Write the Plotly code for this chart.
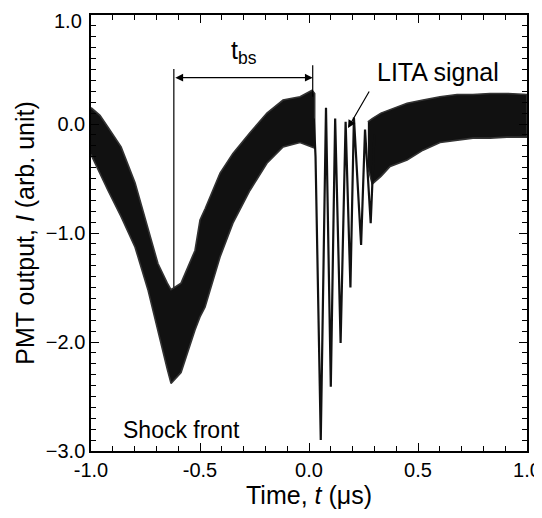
import plotly.graph_objects as go

# ---- data ----
# noisy band before the LITA burst (shock-front dip)
band1_t = [-1.0, -0.959, -0.922, -0.862, -0.798, -0.739, -0.693, -0.650, -0.633, -0.587, -0.523, -0.500,
           -0.477, -0.408, -0.349, -0.271, -0.193, -0.119, -0.041, 0.014, 0.026]
band1_upper = [0.15, 0.08, -0.03, -0.21, -0.54, -0.97, -1.28, -1.46, -1.52, -1.46, -1.16, -0.88,
               -0.78, -0.45, -0.27, -0.08, 0.10, 0.22, 0.25, 0.31, 0.28]
band1_lower = [-0.28, -0.45, -0.61, -0.85, -1.13, -1.52, -1.89, -2.25, -2.38, -2.28, -1.89, -1.77,
               -1.68, -1.22, -0.91, -0.61, -0.36, -0.21, -0.17, -0.21, -0.22]

# LITA oscillation
lita_t = [0.022, 0.030, 0.054, 0.078, 0.100, 0.120, 0.145, 0.168, 0.190, 0.206, 0.239, 0.257, 0.283, 0.300]
lita_v = [0.05, -0.30, -2.90, 0.15, -2.41, 0.05, -2.01, 0.02, -1.50, 0.06, -1.11, -0.05, -0.91, -0.10]

# noisy band after the LITA burst
band2_t = [0.270, 0.290, 0.330, 0.372, 0.450, 0.523, 0.601, 0.679, 0.752, 0.830, 0.908, 1.0]
band2_upper = [0.02, 0.05, 0.10, 0.13, 0.19, 0.22, 0.25, 0.27, 0.27, 0.28, 0.28, 0.27]
band2_lower = [-0.40, -0.55, -0.48, -0.39, -0.33, -0.24, -0.17, -0.15, -0.13, -0.13, -0.12, -0.12]

x_tick_vals = [-1.0, -0.5, 0.0, 0.5, 1.0]
x_tick_text = ["-1.0", "-0.5", "0.0", "0.5", "1.0"]
y_tick_vals = [1.0, 0.0, -1.0, -2.0, -3.0]
y_tick_text = ["1.0", "0.0", "\u22121.0", "\u22122.0", "\u22123.0"]

FONT = "Liberation Sans, Arial, Helvetica, sans-serif"
X_RANGE = [-1, 1]
Y_RANGE = [-3, 1]

fig = go.Figure()

def band(t, up, lo):
    xs = list(t) + list(reversed(t))
    ys = list(up) + list(reversed(lo))
    return go.Scatter(x=xs, y=ys, mode="lines", fill="toself", fillcolor="#111111",
                      line=dict(color="#333333", width=1.6), hoverinfo="skip", showlegend=False)

fig.add_trace(band(band1_t, band1_upper, band1_lower))
fig.add_trace(band(band2_t, band2_upper, band2_lower))
fig.add_trace(go.Scatter(x=lita_t, y=lita_v, mode="lines",
                         line=dict(color="#111111", width=2.2), showlegend=False))
# invisible trace that binds the mirrored (top / right) tick axes
fig.add_trace(go.Scatter(x=[X_RANGE[0]], y=[Y_RANGE[0]], xaxis="x2", yaxis="y2", mode="markers",
                         marker=dict(opacity=0), hoverinfo="skip", showlegend=False))

tick_common = dict(ticks="inside", ticklen=8, tickwidth=1.3, tickcolor="black",
                   showgrid=False, zeroline=False, automargin=False)
minor_x = dict(tick0=-1, dtick=0.1, ticks="inside", ticklen=5, tickwidth=1.3, tickcolor="black")
minor_y = dict(tick0=-3, dtick=0.1, ticks="inside", ticklen=5, tickwidth=1.3, tickcolor="black")

# the topmost y label sits a little below its tick in the reference, so it is drawn as an annotation
y_axis_text = [""] + y_tick_text[1:]

fig.update_layout(
    xaxis=dict(range=X_RANGE, tickvals=x_tick_vals, ticktext=x_tick_text,
               showline=True, linecolor="black", linewidth=1.5, minor=minor_x,
               ticklabeloverflow="allow",
               tickfont=dict(family=FONT, size=20, color="black"),
               title=dict(text="Time, <i>t</i> (\u03bcs)", font=dict(family=FONT, size=25, color="black"),
                          standoff=4),
               **tick_common),
    yaxis=dict(range=Y_RANGE, tickvals=y_tick_vals, ticktext=y_axis_text,
               showline=True, linecolor="black", linewidth=1.5, minor=minor_y,
               ticklabeloverflow="allow",
               tickfont=dict(family=FONT, size=20, color="black"),
               title=dict(text="PMT output, <i>I</i> (arb. unit)", font=dict(family=FONT, size=25, color="black"),
                          standoff=4),
               **tick_common),
    xaxis2=dict(range=X_RANGE, overlaying="x", side="top", anchor="y2", tickvals=x_tick_vals,
                showticklabels=False, showline=True, linecolor="black", linewidth=1.5, minor=minor_x,
                **tick_common),
    yaxis2=dict(range=Y_RANGE, overlaying="y", side="right", anchor="x2", tickvals=y_tick_vals,
                showticklabels=False, showline=True, linecolor="black", linewidth=1.5, minor=minor_y,
                **tick_common),
)

fig.add_annotation(x=0, xref="paper", xanchor="right", xshift=-7, y=y_tick_vals[0], yref="y",
                   yanchor="middle", yshift=-6, text=y_tick_text[0], showarrow=False,
                   font=dict(family=FONT, size=20, color="black"))

# t_bs markers
fig.add_shape(type="line", x0=-0.62, x1=-0.62, y0=0.505, y1=-1.5, line=dict(color="black", width=1.2))
fig.add_shape(type="line", x0=0.017, x1=0.017, y0=0.54, y1=0.25, line=dict(color="black", width=1.2))
fig.add_annotation(x=0.017, y=0.425, ax=-0.62, ay=0.425, axref="x", ayref="y", xref="x", yref="y",
                   text="", showarrow=True, arrowhead=2, arrowside="end+start", arrowsize=1.3,
                   arrowwidth=1.2, arrowcolor="black", standoff=0, startstandoff=0)
fig.add_annotation(x=-0.30, y=0.66, xref="x", yref="y", text="t<sub>bs</sub>", showarrow=False,
                   font=dict(family=FONT, size=25, color="black"))

# LITA signal label
fig.add_annotation(x=0.179, y=-0.037, ax=0.28, ay=0.312, axref="x", ayref="y", xref="x", yref="y",
                   text="", showarrow=True, arrowhead=2, arrowsize=1.3, arrowwidth=1.2,
                   arrowcolor="black", standoff=0)
fig.add_annotation(x=0.594, y=0.48, xref="x", yref="y", text="LITA signal", showarrow=False,
                   font=dict(family=FONT, size=25, color="black"))

fig.add_annotation(x=-0.587, y=-2.81, xref="x", yref="y", text="Shock front", showarrow=False,
                   font=dict(family=FONT, size=23, color="black"))

# the page body adds an 8 px offset, so the figure is drawn 8 px smaller
fig.update_layout(width=534, height=510, margin=dict(l=83, r=15, t=7, b=67, autoexpand=False),
                  paper_bgcolor="white", plot_bgcolor="white", showlegend=False,
                  font=dict(family=FONT, color="black"))

fig.write_html("out.html")
